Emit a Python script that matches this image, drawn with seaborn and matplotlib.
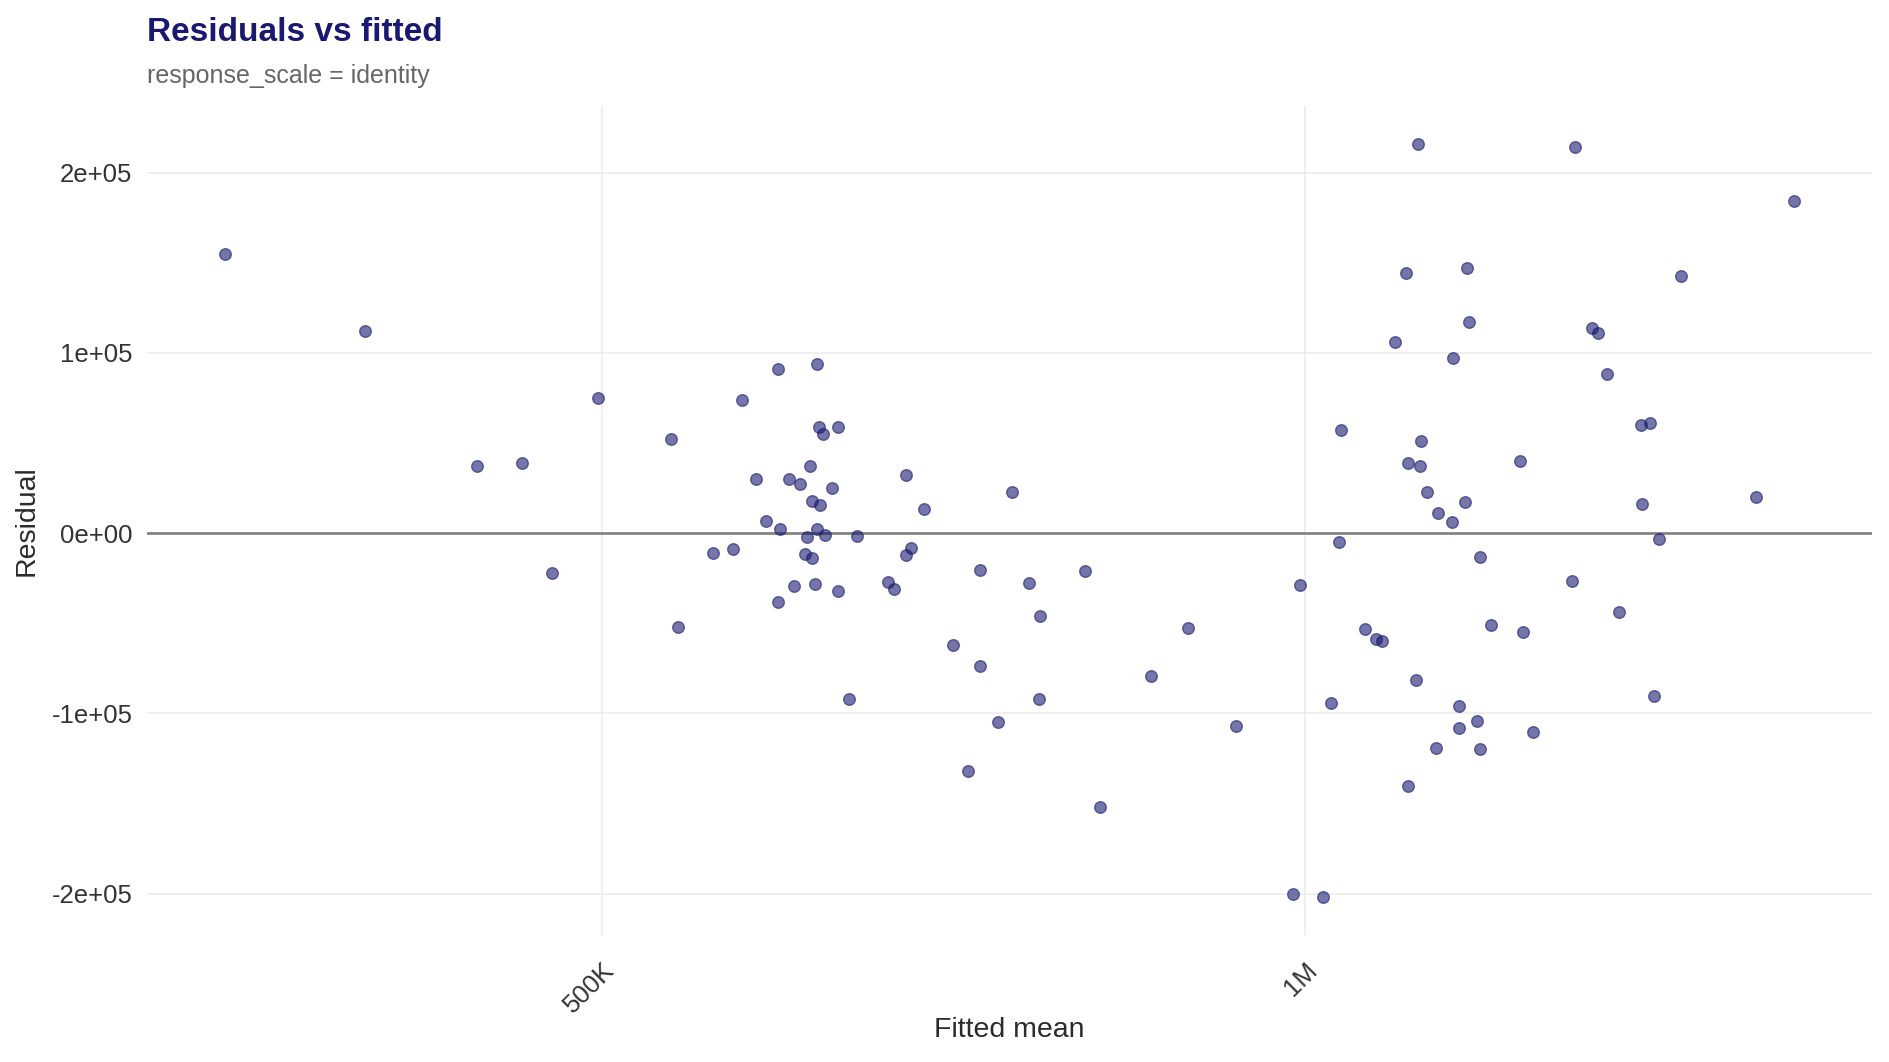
import numpy as np
import pandas as pd
import matplotlib
matplotlib.use("Agg")
import matplotlib.pyplot as plt
from matplotlib.ticker import FixedLocator, NullLocator
import seaborn as sns

# Fitted means (in thousands) and residuals (in thousands)
fitted_k = [
    345, 396, 442, 462, 476, 498, 535, 539,
    595, 618, 574, 619, 622, 631, 614, 582, 601, 608, 627, 675, 615, 620, 687,
    588, 596, 618, 612, 623, 643, 558, 569, 611, 615, 678, 675, 726, 604, 617,
    631, 663, 667, 595,
    749, 762, 805, 770, 891, 707, 726, 859, 638, 769, 995, 739, 934, 717, 817,
    988, 1018,
    1117, 1304, 1104, 1173, 1448, 1175, 1327, 1335, 1092, 1157, 1346, 1036,
    1392, 1405, 1121, 1106, 1120, 1236, 1127, 1171, 1140, 1156, 1394, 1034,
    1417, 1188, 1301, 1362, 1061, 1072, 1078, 1201, 1239, 1115, 1026, 1410,
    1163, 1184, 1163, 1251, 1138, 1188, 1107,
    1618, 1559,
]
residual_k = [
    155, 112, 37.5, 39, -22, 75, 52, -52,
    91, 94, 74, 59, 55, 59, 37, 30, 30, 27, 25, 32, 18, 15.5, 13.6,
    7, 2.5, 2.5, -2, -1, -1.7, -11, -9, -11.6, -13.7, -8, -12.4, -20.6, -29.6,
    -28, -32, -27, -31, -38,
    23, -27.5, -21, -46, -52.5, -62, -73.6, -79, -92, -92, -29, -105, -107,
    -132, -152, -200, -202,
    216, 214, 144.5, 147, 142.5, 117, 114, 111, 106, 97, 88.5, 57,
    60, 61, 51, 39, 37.5, 40, 23, 17, 11, 6, 16, -5,
    -3, -13, -26.4, -43.6, -53, -59, -60, -51, -55, -81.5, -94, -90.6,
    -96, -104, -108, -110.5, -119, -120, -140,
    184, 20,
]
x_tick_values = [5e5, 1e6]
x_tick_labels = ["500K", "1M"]
y_tick_values = [-2e5, -1e5, 0, 1e5, 2e5]
y_tick_labels = ["-2e+05", "-1e+05", "0e+00", "1e+05", "2e+05"]

df = pd.DataFrame({
    "fitted": np.array(fitted_k, dtype=float) * 1000,
    "residual": np.array(residual_k, dtype=float) * 1000,
})

sns.set_theme(style="white")
plt.rcParams["font.family"] = ["Liberation Sans", "DejaVu Sans"]

navy = "#191970"
W, H = 1889, 1062
fig = plt.figure(figsize=(W / 100, H / 100), dpi=100)
fig.patch.set_facecolor("white")
ax = fig.add_axes([147 / W, 1 - 935 / H, (1872 - 147) / W, (935 - 106) / H])
ax.set_facecolor("white")
ax.set_xscale("log")

ax.axhline(0, color="#808080", linewidth=1.9, zorder=1.5)
sns.scatterplot(data=df, x="fitted", y="residual", ax=ax, color=navy,
                alpha=0.6, s=70, edgecolor=navy, linewidth=1.0, zorder=3,
                legend=False)
ax.margins(x=0.05, y=0.05)

ax.xaxis.set_major_locator(FixedLocator(x_tick_values))
ax.xaxis.set_minor_locator(NullLocator())
ax.set_xticklabels(x_tick_labels)
ax.yaxis.set_major_locator(FixedLocator(y_tick_values))
ax.yaxis.set_minor_locator(NullLocator())
ax.set_yticklabels(y_tick_labels)

ax.grid(True, which="major", color="#ebebeb", linewidth=1.1, zorder=0)
ax.set_axisbelow(True)
for sp in ax.spines.values():
    sp.set_visible(False)

ax.tick_params(axis="y", length=0, pad=10.4, labelsize=18.5, labelcolor="#333333")
ax.tick_params(axis="x", length=0, pad=16.5, labelsize=18.5, labelcolor="#333333")
for lbl in ax.get_xticklabels():
    lbl.set_rotation(45)
    lbl.set_ha("right")
    lbl.set_va("top")
    lbl.set_rotation_mode("anchor")

ax.set_xlabel("")
ax.set_ylabel("")
fig.text(1009.5 / W, 1 - 1037 / H, "Fitted mean", ha="center", va="baseline",
         fontsize=20.5, color="#2b2b2b")
fig.text(27 / W, 1 - 520.5 / H, "Residual", ha="center", va="center",
         rotation=90, fontsize=20.5, color="#2b2b2b")

fig.text(147 / W, 1 - 41 / H, "Residuals vs fitted", ha="left", va="baseline",
         fontsize=24, fontweight="bold", color=navy)
fig.text(147 / W, 1 - 83 / H, "response_scale = identity", ha="left",
         va="baseline", fontsize=18, color="#666666")

fig.savefig("out.png", dpi=100, facecolor="white")
